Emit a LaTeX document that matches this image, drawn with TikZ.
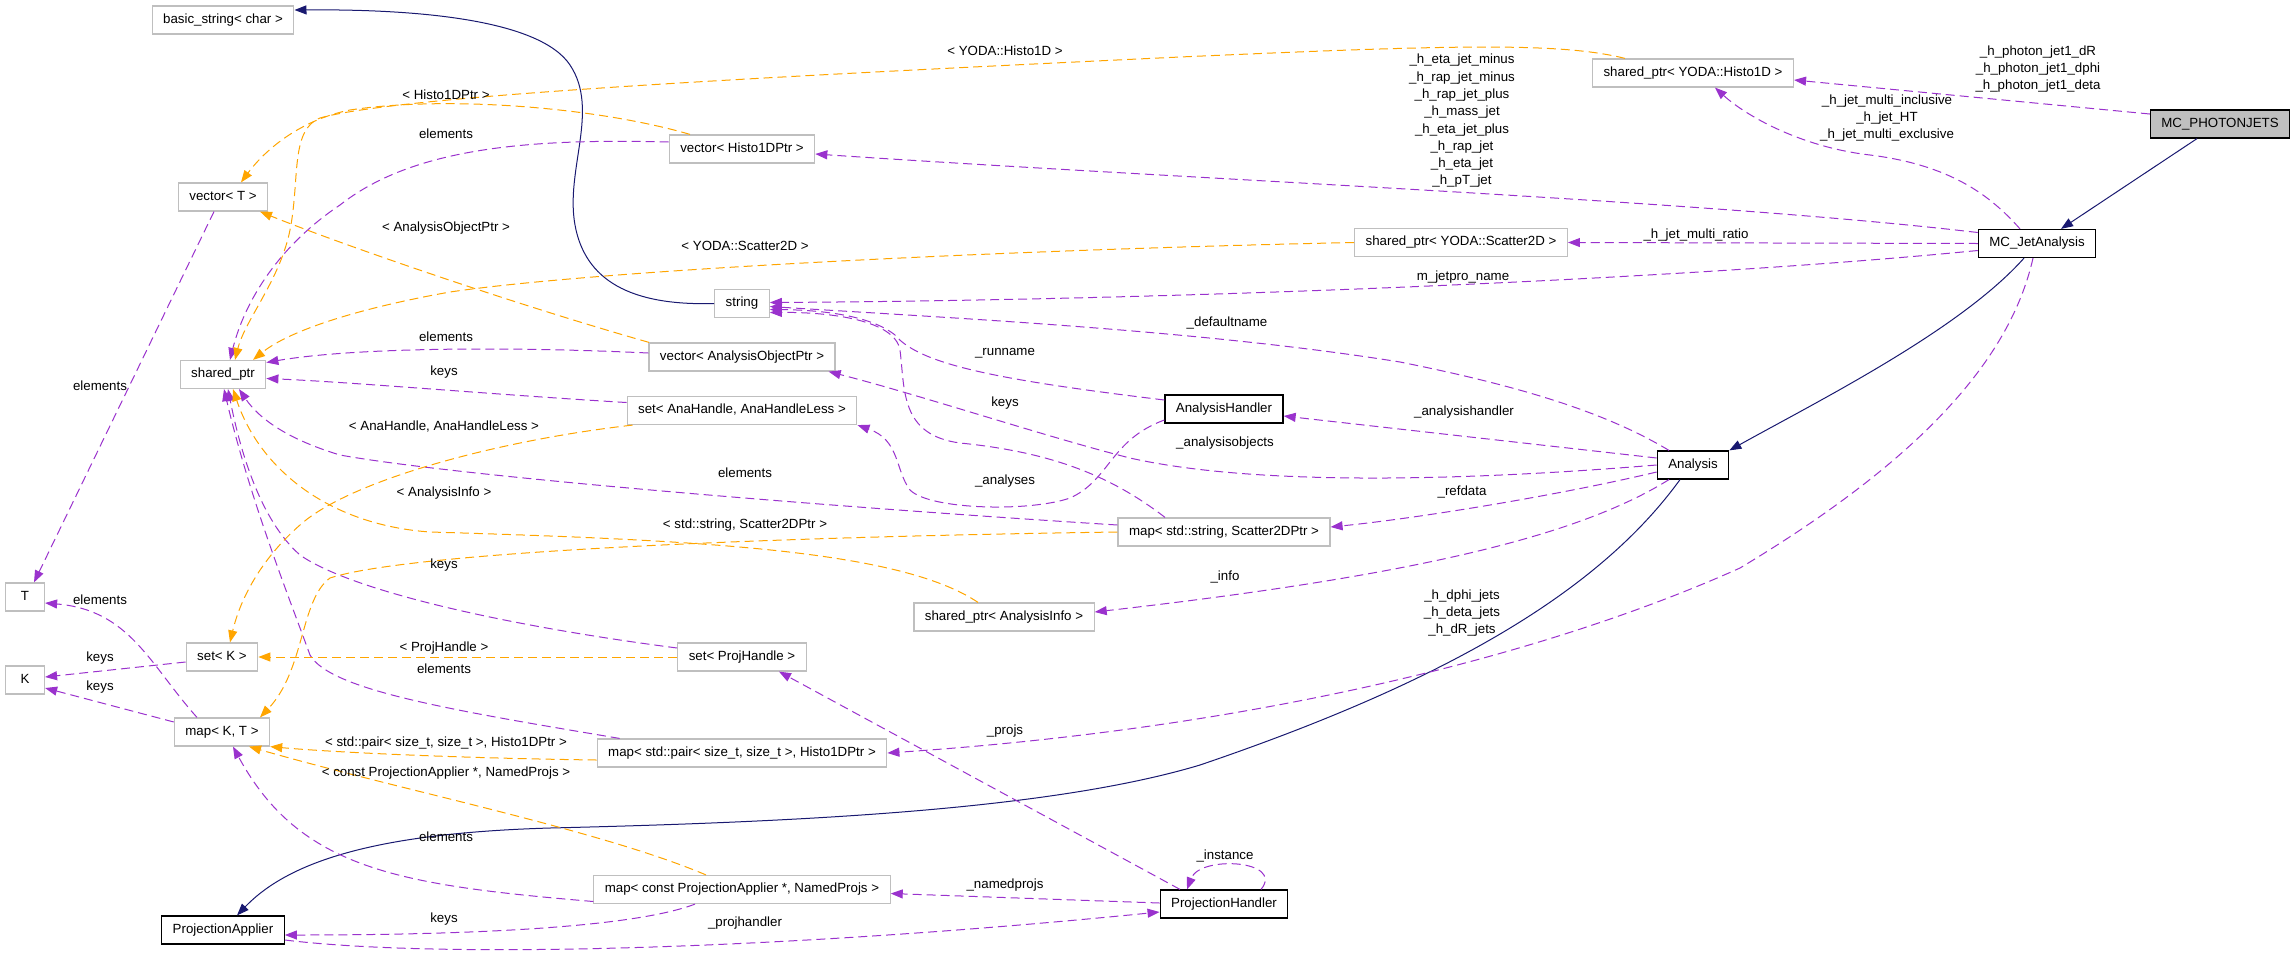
\documentclass[tikz,border=0pt]{standalone}
\usepackage{fontspec}
\setmainfont{Liberation Sans}
\usetikzlibrary{arrows.meta}
\definecolor{edgeblue}{HTML}{191970}
\definecolor{edgepurple}{HTML}{9A32CD}
\definecolor{edgeorange}{HTML}{FFA500}
\definecolor{boxgray}{HTML}{BFBFBF}

\begin{document}
\begin{tikzpicture}[x=1pt,y=-1pt,
        font=\fontsize{13.3}{17.3}\selectfont,
        every node/.style={inner sep=0pt},
        cls/.style={draw=black,line width=1.2pt,rectangle,inner xsep=11pt,minimum height=28pt,text height=9.6pt,text depth=2.8pt},
        ext/.style={cls,draw=boxgray},
        lbl/.style={text height=9.6pt,text depth=2.8pt},
        mlbl/.style={align=center},
        inh/.style={draw=edgeblue,line width=1pt,-{Triangle[length=12pt,width=9pt]}},
        mem/.style={draw=edgepurple,line width=1pt,dash pattern=on 9pt off 5pt,-{Triangle[length=12pt,width=9pt]}},
        tpl/.style={mem,draw=edgeorange}]

    \useasboundingbox (0,0) rectangle (2296,956);

    \node[ext] (bstr) at (223,20) {basic\_string< char >};
    \node[ext] (vecT) at (223,197) {vector< T >};
    \node[ext] (sptr) at (223,374.5) {shared\_ptr};
    \node[ext,minimum width=39pt] (nT) at (25,597) {T};
    \node[ext,minimum width=39pt] (nK) at (25,680) {K};
    \node[ext] (setK) at (222,657) {set< K >};
    \node[ext] (mapKT) at (222,732) {map< K, T >};
    \node[cls] (papp) at (223,930) {ProjectionApplier};
    \node[ext] (vecH) at (742,149) {vector< Histo1DPtr >};
    \node[ext] (str) at (742,303.5) {string};
    \node[ext] (vecAO) at (742,357) {vector< AnalysisObjectPtr >};
    \node[ext] (setAH) at (742,410.5) {set< AnaHandle, AnaHandleLess >};
    \node[ext] (setPH) at (742,657) {set< ProjHandle >};
    \node[ext] (mapPair) at (742,753) {map< std::pair< size\_t, size\_t >, Histo1DPtr >};
    \node[ext] (mapNP) at (742,889.5) {map< const ProjectionApplier *, NamedProjs >};
    \node[ext] (spInfo) at (1004,617) {shared\_ptr< AnalysisInfo >};
    \node[cls] (ahand) at (1224,409) {AnalysisHandler};
    \node[ext] (mapSc) at (1224,532) {map< std::string, Scatter2DPtr >};
    \node[cls] (phand) at (1224,904) {ProjectionHandler};
    \node[ext] (spSc) at (1461,242.5) {shared\_ptr< YODA::Scatter2D >};
    \node[ext] (spH) at (1693,73) {shared\_ptr< YODA::Histo1D >};
    \node[cls] (ana) at (1693,465) {Analysis};
    \node[cls] (mcjet) at (2037,243.5) {MC\_JetAnalysis};
    \node[cls,fill=boxgray] (mcpj) at (2220,124) {MC\_PHOTONJETS};

    % inheritance
    \draw[inh] ([xshift=-23pt]mcpj.south) -- ([xshift=24pt]mcjet.north);
    \draw[inh] ([xshift=-13pt]mcjet.south) .. controls (1960,330) and (1820,400) .. (ana.north east);
    \draw[inh] ([xshift=-13pt]ana.south) .. controls (1600,590) and (1450,680) .. (1200,765)
        .. controls (1050,810) and (800,822) .. (550,828) .. controls (380,833) and (290,860) .. ([xshift=14pt]papp.north);
    \draw[inh] (str.west) .. controls (630,306) and (585,280) .. (575,225) .. controls (565,170) and (600,110) .. (570,65)
        .. controls (540,20) and (420,9) .. ([yshift=10pt]bstr.east);

    % members
    \draw[mem] ([yshift=10pt]mcpj.west) -- ([yshift=-7pt]spH.east);
    \draw[mem] ([xshift=-17pt]mcjet.north) .. controls (1990,195) and (1950,165) .. (1870,155)
        .. controls (1800,147) and (1745,115) .. ([xshift=22pt]spH.south);
    \draw[mem] ([yshift=11pt]mcjet.west) .. controls (1700,200) and (1200,180) .. ([yshift=-5pt]vecH.east);
    \draw[mem] (mcjet.west) -- (spSc.east);
    \draw[mem] ([yshift=-7pt]mcjet.west) .. controls (1700,278) and (1200,300) .. ([yshift=1pt]str.east);
    \draw[mem] ([xshift=-4pt]mcjet.south) .. controls (2010,360) and (1920,460) .. (1740,568)
        .. controls (1580,640) and (1300,725) .. (mapPair.east);
    \draw[mem] ([xshift=-24pt]ana.north) .. controls (1610,415) and (1530,388) .. (1400,362)
        .. controls (1200,330) and (950,318) .. ([yshift=-3pt]str.east);
    \draw[mem] ([yshift=7pt]ana.west) -- ([yshift=-7pt]ahand.east);
    \draw[mem] (ana.west) .. controls (1450,482) and (1250,485) .. (1130,458)
        .. controls (1050,438) and (920,395) .. ([xshift=-7pt]vecAO.south east);
    \draw[mem] ([yshift=-7pt]ana.west) .. controls (1560,495) and (1420,518) .. ([yshift=5pt]mapSc.east);
    \draw[mem] ([xshift=-24pt]ana.south) .. controls (1580,535) and (1420,575) .. ([yshift=5pt]spInfo.east);
    \draw[mem] ([yshift=9pt]ahand.west) .. controls (1000,380) and (920,365) .. (895,335)
        .. controls (870,315) and (820,310) .. ([yshift=-6pt]str.east);
    \draw[mem] ([yshift=-11pt]ahand.west) .. controls (1110,440) and (1110,480) .. (1070,498)
        .. controls (1030,512) and (930,510) .. (910,490) .. controls (895,470) and (900,440) .. (setAH.south east);
    \draw[mem] ([xshift=-59pt]mapSc.north) .. controls (1110,475) and (1050,452) .. (960,443)
        .. controls (900,435) and (905,390) .. (900,350) .. controls (895,320) and (830,312) .. ([yshift=-9pt]str.east);
    \draw[mem] ([yshift=7pt]mapSc.west) .. controls (800,505) and (450,475) .. (340,455)
        .. controls (290,440) and (260,420) .. ([xshift=16pt]sptr.south);
    \draw[mem] ([yshift=9pt]setPH.west) .. controls (500,625) and (350,590) .. (300,555)
        .. controls (260,520) and (240,450) .. ([xshift=5pt]sptr.south);
    \draw[mem] ([xshift=23pt]mapPair.north west) .. controls (450,710) and (330,690) .. (310,655)
        .. controls (290,600) and (250,500) .. ([xshift=1pt]sptr.south);
    \draw[mem] ([yshift=-12pt]mapNP.west) .. controls (400,885) and (300,870) .. ([xshift=11pt]mapKT.south);
    \draw[mem] ([xshift=-25pt]mapKT.north) .. controls (150,665) and (130,610) .. ([yshift=-6pt]nT.east);
    \draw[mem] ([yshift=10pt]mapKT.west) -- ([yshift=-8pt]nK.east);
    \draw[mem] ([yshift=-5pt]setK.west) -- ([yshift=3pt]nK.east);
    \draw[mem] ([xshift=-9pt]vecT.south) -- ([xshift=9pt]nT.north);
    \draw[mem] ([yshift=7pt]vecH.west) .. controls (520,138) and (410,150) .. (340,205)
        .. controls (280,245) and (245,300) .. ([xshift=7pt]sptr.north);
    \draw[mem] ([yshift=4pt]vecAO.west) .. controls (500,346) and (350,348) .. ([yshift=12pt]sptr.east);
    \draw[mem] ([yshift=8pt]setAH.west) .. controls (500,395) and (350,382) .. ([yshift=-4pt]sptr.east);
    \draw[mem] ([xshift=-47pt]mapNP.south) .. controls (640,925) and (500,935) .. ([yshift=-5pt]papp.east);
    \draw[mem] ([yshift=1pt]phand.west) -- ([yshift=-4pt]mapNP.east);
    \draw[mem] ([yshift=-10pt]papp.east) .. controls (450,960) and (800,948) .. ([yshift=-8pt]phand.west);
    \draw[mem] ([xshift=-44pt]phand.north) -- ([xshift=37pt]setPH.south);
    \draw[mem] ([xshift=37pt]phand.north) .. controls (1285,860) and (1200,855) .. ([xshift=-37pt]phand.north);

    % template arguments
    \draw[tpl] ([xshift=-68pt]spH.north) .. controls (1560,42) and (1450,45) .. (1180,57)
        .. controls (800,75) and (400,95) .. (320,118) .. controls (290,130) and (300,180) .. (290,230)
        .. controls (280,280) and (245,320) .. ([xshift=12pt]sptr.north);
    \draw[tpl] ([xshift=-52pt]vecH.north) .. controls (600,108) and (450,95) .. (350,110)
        .. controls (300,120) and (265,150) .. ([xshift=18pt]vecT.north);
    \draw[tpl] (spSc.west) .. controls (1000,250) and (600,270) .. (450,292)
        .. controls (360,308) and (290,330) .. ([xshift=30pt]sptr.north);
    \draw[tpl] ([xshift=-93pt]vecAO.north) .. controls (500,300) and (330,240) .. ([xshift=37pt]vecT.south);
    \draw[tpl] ([xshift=6pt]setAH.south west) .. controls (500,440) and (350,480) .. (300,525)
        .. controls (260,560) and (240,600) .. ([xshift=8pt]setK.north);
    \draw[tpl] (mapSc.west) .. controls (700,538) and (400,555) .. (330,578)
        .. controls (300,600) and (305,670) .. ([xshift=38pt]mapKT.north);
    \draw[tpl] ([xshift=-26pt]spInfo.north) .. controls (900,550) and (700,540) .. (430,532)
        .. controls (330,525) and (260,470) .. ([xshift=10pt]sptr.south);
    \draw[tpl] (setPH.west) -- (setK.east);
    \draw[tpl] ([yshift=-7pt]mapPair.west) .. controls (450,758) and (330,752) .. (mapKT.south east);
    \draw[tpl] ([xshift=-36pt]mapNP.north) .. controls (600,830) and (400,790) .. ([xshift=27pt]mapKT.south);

    % labels
    \node[mlbl] (lphoton) at (2038,69) {\_h\_photon\_jet1\_dR\\\_h\_photon\_jet1\_dphi\\\_h\_photon\_jet1\_deta};
    \node[mlbl] (lmulti) at (1887,118) {\_h\_jet\_multi\_inclusive\\\_h\_jet\_HT\\\_h\_jet\_multi\_exclusive};
    \node[mlbl] (lhists) at (1462,121) {\_h\_eta\_jet\_minus\\\_h\_rap\_jet\_minus\\\_h\_rap\_jet\_plus\\\_h\_mass\_jet\\\_h\_eta\_jet\_plus\\\_h\_rap\_jet\\\_h\_eta\_jet\\\_h\_pT\_jet};
    \node[lbl] (lratio) at (1696,235) {\_h\_jet\_multi\_ratio};
    \node[lbl] (ljetpro) at (1463,277) {m\_jetpro\_name};
    \node[mlbl] (ljets) at (1462,613) {\_h\_dphi\_jets\\\_h\_deta\_jets\\\_h\_dR\_jets};
    \node[lbl] (ldefault) at (1227,323) {\_defaultname};
    \node[lbl] (lrun) at (1005,352) {\_runname};
    \node[lbl] (lkeysc) at (1005,403) {keys};
    \node[lbl] (lhandler) at (1464,412) {\_analysishandler};
    \node[lbl] (lobjects) at (1225,443) {\_analysisobjects};
    \node[lbl] (lanalyses) at (1005,481) {\_analyses};
    \node[lbl] (lref) at (1462,492) {\_refdata};
    \node[lbl] (linfo) at (1225,577) {\_info};
    \node[lbl] (lprojs) at (1005,731) {\_projs};
    \node[lbl] (lnamed) at (1005,885) {\_namedprojs};
    \node[lbl] (lprojh) at (745,923) {\_projhandler};
    \node[lbl] (linst) at (1225,856) {\_instance};
    \node[lbl] (lyh) at (1005,52) {< YODA::Histo1D >};
    \node[lbl] (lhptr) at (446,96) {< Histo1DPtr >};
    \node[lbl] (lelemh) at (446,135) {elements};
    \node[lbl] (laoptr) at (446,228) {< AnalysisObjectPtr >};
    \node[lbl] (lysc) at (745,247) {< YODA::Scatter2D >};
    \node[lbl] (lelemao) at (446,338) {elements};
    \node[lbl] (lkeysah) at (444,372) {keys};
    \node[lbl] (lelemT) at (100,387) {elements};
    \node[lbl] (lanah) at (444,427) {< AnaHandle, AnaHandleLess >};
    \node[lbl] (lelemsc) at (745,474) {elements};
    \node[lbl] (lainfo) at (444,493) {< AnalysisInfo >};
    \node[lbl] (lstrsc) at (745,525) {< std::string, Scatter2DPtr >};
    \node[lbl] (lkeysph) at (444,565) {keys};
    \node[lbl] (lelemKT) at (100,601) {elements};
    \node[lbl] (lprojhd) at (444,648) {< ProjHandle >};
    \node[lbl] (lkeysK) at (100,658) {keys};
    \node[lbl] (lelempair) at (444,670) {elements};
    \node[lbl] (lkeysKT) at (100,687) {keys};
    \node[lbl] (lpair) at (446,743) {< std::pair< size\_t, size\_t >, Histo1DPtr >};
    \node[lbl] (lconst) at (446,773) {< const ProjectionApplier *, NamedProjs >};
    \node[lbl] (lelemnp) at (446,838) {elements};
    \node[lbl] (lkeysnp) at (444,919) {keys};
\end{tikzpicture}
\end{document}
